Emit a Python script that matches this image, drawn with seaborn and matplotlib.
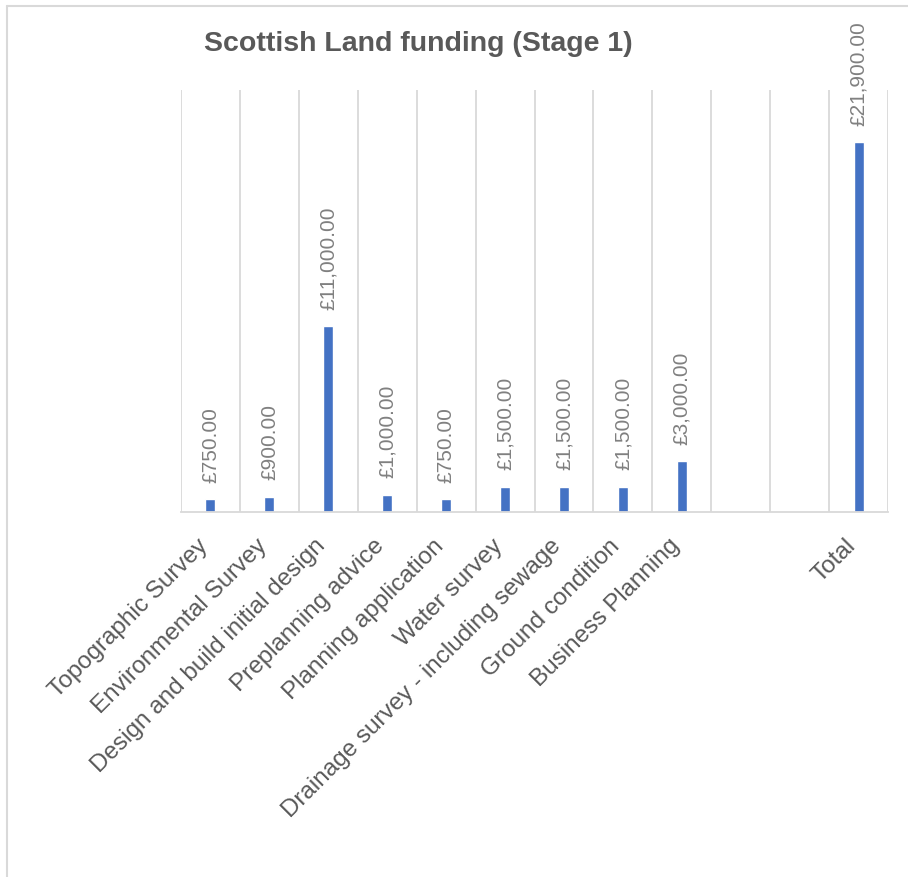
import matplotlib
matplotlib.use("Agg")

import matplotlib.pyplot as plt
import numpy as np
import pandas as pd
import seaborn as sns
from matplotlib.lines import Line2D
from matplotlib.transforms import ScaledTranslation


CATEGORIES = [
    "Topographic Survey",
    "Environmental Survey",
    "Design and build initial design",
    "Preplanning advice",
    "Planning application",
    "Water survey",
    "Drainage survey - including sewage",
    "Ground condition",
    "Business Planning",
    " ",
    "  ",
    "Total",
]
AMOUNTS = [750, 900, 11000, 1000, 750, 1500, 1500, 1500, 3000, None, None, 21900]
TITLE = "Scottish Land funding (Stage 1)"

BAR_COLOR = "#4472C4"
GRID_COLOR = "#d9d9d9"
TEXT_COLOR = "#595959"
LABEL_COLOR = "#808080"


def build_frame() -> pd.DataFrame:
    df = pd.DataFrame({"Item": CATEGORIES, "Amount": AMOUNTS})
    df["Amount"] = pd.to_numeric(df["Amount"], errors="coerce")
    return df


def main() -> None:
    df = build_frame()

    sns.set_theme(style="white")
    plt.rcParams["font.family"] = ["Liberation Sans", "DejaVu Sans"]

    fig = plt.figure(figsize=(9.08, 8.77), dpi=100)
    ax = fig.add_axes([181 / 908, 1 - 512 / 877, 707 / 908, 422 / 877])

    sns.barplot(
        data=df,
        x="Item",
        y="Amount",
        order=CATEGORIES,
        color=BAR_COLOR,
        saturation=1,
        width=0.17,
        errorbar=None,
        ax=ax,
    )

    # data labels above each bar
    for i, value in enumerate(df["Amount"]):
        if pd.isna(value):
            continue
        ax.annotate(
            f"£{value:,.2f}",
            (i, value),
            xytext=(0, 12),
            textcoords="offset points",
            rotation=90,
            ha="center",
            va="bottom",
            fontsize=15,
            color=LABEL_COLOR,
        )

    ax.set_xlim(-0.5, len(CATEGORIES) - 0.5)
    ax.set_ylim(0, 25000)
    ax.set_yticks([])
    ax.set_xlabel("")
    ax.set_ylabel("")

    ax.set_xticks(range(len(CATEGORIES)))
    ax.set_xticklabels(
        CATEGORIES,
        rotation=45,
        ha="right",
        va="center",
        rotation_mode="anchor",
        fontsize=17.5,
        color=TEXT_COLOR,
    )
    ax.tick_params(axis="x", which="major", length=0, pad=22)
    shift = ScaledTranslation(-6 / 100, 0, fig.dpi_scale_trans)
    for label in ax.get_xticklabels():
        label.set_transform(label.get_transform() + shift)

    # vertical separators between categories
    ax.set_xticks(np.arange(-0.5, len(CATEGORIES), 1), minor=True)
    ax.tick_params(axis="x", which="minor", length=0)
    ax.grid(which="minor", axis="x", color=GRID_COLOR, linewidth=1.3)
    ax.grid(which="major", visible=False)
    ax.set_axisbelow(True)

    for side in ["left", "right", "top"]:
        ax.spines[side].set_visible(False)
    ax.spines["bottom"].set_color(GRID_COLOR)
    ax.spines["bottom"].set_linewidth(1.3)

    fig.text(
        418 / 908,
        1 - 44 / 877,
        TITLE,
        ha="center",
        va="center",
        fontsize=20.5,
        fontweight="bold",
        color=TEXT_COLOR,
    )

    # chart area border (cropped on right and bottom)
    fig.add_artist(Line2D([7 / 908, 1], [1 - 6 / 877] * 2, transform=fig.transFigure,
                          color=GRID_COLOR, linewidth=1.5))
    fig.add_artist(Line2D([7 / 908] * 2, [0, 1 - 6 / 877], transform=fig.transFigure,
                          color=GRID_COLOR, linewidth=1.5))

    fig.savefig("out.png", dpi=100)
    plt.close(fig)


if __name__ == "__main__":
    main()
